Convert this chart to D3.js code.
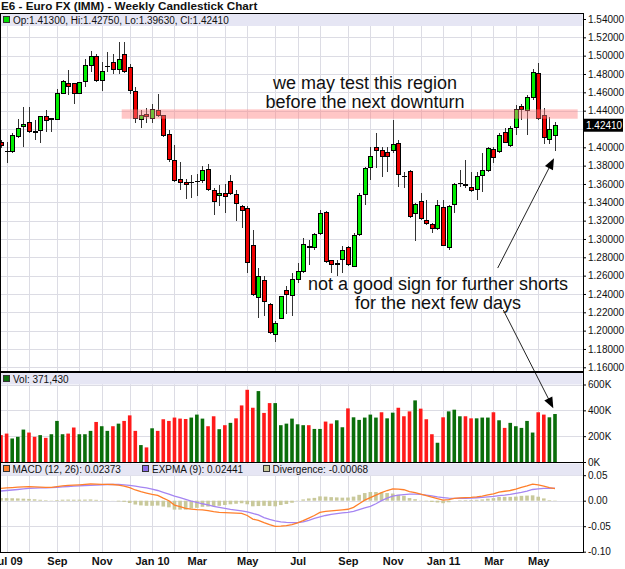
<!DOCTYPE html>
<html>
<head>
<meta charset="utf-8">
<script src="https://cdnjs.cloudflare.com/ajax/libs/d3/7.8.5/d3.min.js"></script>
<style>
body { margin: 0; background: #fff; }
svg text { font-family: "Liberation Sans", Arial, sans-serif; }
</style>
</head>
<body>
<div id="chart"></div>
<script>
// weekly bars, one per Monday, first bar 29 Jun 2009
var firstWeek = new Date(2009, 5, 29);

var opens = [1.4054, 1.3955, 1.3953, 1.4116, 1.4232, 1.4268, 1.4172, 1.4188, 1.4333, 1.4305,
    1.4308, 1.4587, 1.4696, 1.4696, 1.4587, 1.4714, 1.4888, 1.4996, 1.4725, 1.4880,
    1.4920, 1.4851, 1.5011, 1.4870, 1.4612, 1.4308, 1.4362, 1.4315, 1.4406, 1.4344,
    1.4141, 1.3855, 1.3652, 1.3620, 1.3612, 1.3625, 1.3639, 1.3762, 1.3531, 1.3476,
    1.3494, 1.3627, 1.3482, 1.3355, 1.3337, 1.2927, 1.2359, 1.2551, 1.2286, 1.1960,
    1.2134, 1.2438, 1.2384, 1.2558, 1.2648, 1.2910, 1.2902, 1.3065, 1.3290, 1.2764,
    1.2722, 1.2775, 1.2902, 1.2703, 1.3047, 1.3482, 1.3783, 1.3996, 1.3964, 1.3945,
    1.3960, 1.4043, 1.3685, 1.3736, 1.3283, 1.3409, 1.3203, 1.3160, 1.3116, 1.3348,
    1.2902, 1.3380, 1.3600, 1.3590, 1.3561, 1.3536, 1.3688, 1.3746, 1.3978, 1.3953,
    1.4159, 1.4022, 1.4217, 1.4445, 1.4398, 1.4543, 1.4804, 1.4344, 1.4080, 1.4130];

var highs = [1.4080, 1.4062, 1.4152, 1.4308, 1.4435, 1.4442, 1.4297, 1.4340, 1.4406, 1.4320,
    1.4641, 1.4732, 1.4841, 1.4703, 1.4710, 1.4967, 1.5051, 1.5022, 1.4931, 1.5040,
    1.5022, 1.5148, 1.5148, 1.4913, 1.4659, 1.4406, 1.4424, 1.4478, 1.4580, 1.4351,
    1.4188, 1.4025, 1.3844, 1.3652, 1.3699, 1.3712, 1.3791, 1.3820, 1.3556, 1.3592,
    1.3603, 1.3699, 1.3536, 1.3373, 1.3355, 1.3101, 1.2685, 1.2594, 1.2304, 1.2105,
    1.2380, 1.2485, 1.2630, 1.2739, 1.3011, 1.2993, 1.3065, 1.3319, 1.3301, 1.2775,
    1.2775, 1.2920, 1.2920, 1.3065, 1.3500, 1.3790, 1.4007, 1.4152, 1.4007, 1.4007,
    1.4297, 1.4080, 1.3736, 1.3754, 1.3391, 1.3500, 1.3427, 1.3174, 1.3427, 1.3427,
    1.3373, 1.3609, 1.3754, 1.3862, 1.3736, 1.3736, 1.3935, 1.4007, 1.4007, 1.4152,
    1.4206, 1.4232, 1.4460, 1.4478, 1.4568, 1.4859, 1.4924, 1.4424, 1.4333, 1.4275];

var lows = [1.3990, 1.3826, 1.3935, 1.4098, 1.4007, 1.4152, 1.4080, 1.4043, 1.4170, 1.4170,
    1.4300, 1.4580, 1.4569, 1.4478, 1.4580, 1.4659, 1.4822, 1.4714, 1.4616, 1.4822,
    1.4804, 1.4804, 1.4812, 1.4587, 1.4261, 1.4207, 1.4261, 1.4261, 1.4333, 1.4116,
    1.3844, 1.3627, 1.3536, 1.3438, 1.3446, 1.3465, 1.3610, 1.3520, 1.3266, 1.3357,
    1.3285, 1.3482, 1.3192, 1.3120, 1.2630, 1.2377, 1.2141, 1.2159, 1.1960, 1.1877,
    1.2123, 1.2177, 1.2159, 1.2522, 1.2630, 1.2721, 1.2884, 1.3047, 1.2739, 1.2630,
    1.2594, 1.2630, 1.2703, 1.2696, 1.3029, 1.3373, 1.3645, 1.3772, 1.3681, 1.3736,
    1.3935, 1.3572, 1.3554, 1.3228, 1.2974, 1.3210, 1.3156, 1.3065, 1.3101, 1.2920,
    1.2884, 1.3283, 1.3572, 1.3554, 1.3518, 1.3427, 1.3518, 1.3736, 1.3826, 1.3935,
    1.4043, 1.4007, 1.4134, 1.4300, 1.4134, 1.4514, 1.4297, 1.4036, 1.4036, 1.3963];

var closes = [1.4022, 1.3952, 1.4134, 1.4207, 1.4254, 1.4170, 1.4166, 1.4333, 1.4290, 1.4310,
    1.4587, 1.4714, 1.4659, 1.4587, 1.4703, 1.4888, 1.4996, 1.4725, 1.4830, 1.4886,
    1.4851, 1.4956, 1.4822, 1.4616, 1.4315, 1.4351, 1.4333, 1.4413, 1.4351, 1.4134,
    1.3862, 1.3638, 1.3616, 1.3598, 1.3618, 1.3630, 1.3748, 1.3538, 1.3404, 1.3491,
    1.3458, 1.3500, 1.3391, 1.3308, 1.2739, 1.2395, 1.2587, 1.2323, 1.1978, 1.2079,
    1.2377, 1.2395, 1.2558, 1.2641, 1.2938, 1.2915, 1.3047, 1.3275, 1.2757, 1.2721,
    1.2730, 1.2877, 1.2721, 1.3036, 1.3471, 1.3772, 1.3899, 1.3960, 1.3895, 1.3905,
    1.4036, 1.3699, 1.3681, 1.3246, 1.3373, 1.3228, 1.3174, 1.3116, 1.3366, 1.2927,
    1.3355, 1.3590, 1.3610, 1.3583, 1.3529, 1.3681, 1.3746, 1.3989, 1.3891, 1.4127,
    1.4058, 1.4206, 1.4413, 1.4418, 1.4543, 1.4815, 1.4315, 1.4109, 1.4196, 1.4241];

// weekly volume, thousands of contracts
var volumes = [208, 220, 182, 195, 251, 228, 195, 208, 187, 215,
    318, 215, 220, 267, 215, 215, 241, 310, 277, 241,
    277, 297, 318, 361, 241, 131, 113, 261, 241, 331,
    318, 344, 336, 333, 344, 367, 336, 277, 354, 254,
    285, 303, 338, 438, 559, 420, 549, 380, 456, 456,
    285, 297, 336, 292, 285, 285, 256, 256, 313, 297,
    323, 269, 415, 346, 326, 344, 367, 344, 385, 338,
    382, 420, 354, 392, 477, 413, 331, 215, 149, 346,
    392, 405, 354, 354, 338, 338, 344, 344, 385, 323,
    264, 303, 277, 264, 318, 228, 385, 367, 346, 371.43];

// MACD (12, 26) and its EXPMA (9)
var macd = [0.0242, 0.0250, 0.0258, 0.0265, 0.0272, 0.0275, 0.0273, 0.0268, 0.0263, 0.0260,
    0.0275, 0.0290, 0.0300, 0.0305, 0.0312, 0.0320, 0.0327, 0.0325, 0.0322, 0.0320,
    0.0318, 0.0305, 0.0288, 0.0255, 0.0210, 0.0176, 0.0150, 0.0125, 0.0105, 0.0050,
    0.0000, -0.0085, -0.0115, -0.0150, -0.0165, -0.0175, -0.0180, -0.0195, -0.0215, -0.0230,
    -0.0235, -0.0240, -0.0245, -0.0250, -0.0290, -0.0360, -0.0385, -0.0430, -0.0470, -0.0505,
    -0.0500, -0.0490, -0.0470, -0.0435, -0.0390, -0.0340, -0.0290, -0.0230, -0.0210, -0.0200,
    -0.0190, -0.0180, -0.0168, -0.0130, -0.0060, 0.0010, 0.0060, 0.0110, 0.0160, 0.0200,
    0.0230, 0.0225, 0.0215, 0.0180, 0.0160, 0.0130, 0.0100, 0.0070, 0.0040, 0.0013,
    0.0020, 0.0045, 0.0055, 0.0060, 0.0065, 0.0075, 0.0090, 0.0115, 0.0135, 0.0170,
    0.0185, 0.0200, 0.0225, 0.0260, 0.0290, 0.0325, 0.0310, 0.0285, 0.0255, 0.02373];

var signal = [0.0190, 0.0200, 0.0210, 0.0220, 0.0232, 0.0240, 0.0245, 0.0250, 0.0252, 0.0255,
    0.0262, 0.0270, 0.0278, 0.0285, 0.0292, 0.0298, 0.0302, 0.0308, 0.0313, 0.0318,
    0.0320, 0.0318, 0.0310, 0.0300, 0.0285, 0.0268, 0.0250, 0.0225, 0.0200, 0.0165,
    0.0130, 0.0090, 0.0060, 0.0025, -0.0010, -0.0035, -0.0060, -0.0080, -0.0110, -0.0130,
    -0.0150, -0.0170, -0.0185, -0.0200, -0.0220, -0.0250, -0.0280, -0.0330, -0.0365, -0.0395,
    -0.0415, -0.0425, -0.0430, -0.0430, -0.0415, -0.0385, -0.0345, -0.0315, -0.0290, -0.0270,
    -0.0255, -0.0240, -0.0230, -0.0210, -0.0175, -0.0140, -0.0110, -0.0060, 0.0000, 0.0050,
    0.0090, 0.0110, 0.0120, 0.0128, 0.0130, 0.0125, 0.0110, 0.0095, 0.0075, 0.0062,
    0.0050, 0.0046, 0.0046, 0.0048, 0.0052, 0.0058, 0.0065, 0.0075, 0.0085, 0.0098,
    0.0110, 0.0125, 0.0145, 0.0165, 0.0190, 0.0220, 0.0232, 0.0240, 0.0243, 0.02441];

var monthLabels = ["Jul 09", "Sep", "Nov", "Jan 10", "Mar", "May", "Jul", "Sep", "Nov", "Jan 11", "Mar", "May"];
var priceTicks = d3.range(116, 155, 2).map(function(d) { return d / 100; });
var volTicks = [0, 200000, 400000, 600000];
var macdTicks = [-0.10, -0.05, 0, 0.05];

// annotations (bar index / price units)
var band = {from: 21.57, to: 103.05, low: 1.4312, high: 1.4414};
var notes = [
    {idx: 65.05, price: 1.4631, lines: ["we may test this region", "before the next downturn"]},
    {idx: 78.1, price: 1.2443, lines: ["not a good sign for further shorts", "for the next few days"]}
];

var dates = d3.timeMonday.range(firstWeek, d3.timeWeek.offset(firstWeek, opens.length));
var bars = dates.map(function(d, i) {
    return {
        i: i, date: d, open: opens[i], high: highs[i], low: lows[i], close: closes[i],
        vol: volumes[i] * 1000, macd: macd[i], signal: signal[i], div: macd[i] - signal[i],
        volUp: i === 0 ? closes[i] >= opens[i] : closes[i] >= closes[i - 1]
    };
});
var last = bars[bars.length - 1];

var W = 625, H = 569, left = 0.5, right = 583;
var price = {top: 13, bottom: 372},
    vol = {top: 372, bottom: 462.5},
    osc = {top: 462.5, bottom: 552};

var svg = d3.select("#chart").append("svg")
    .attr("width", W).attr("height", H);

var x = d3.scaleLinear().domain([0, 99]).range([1, 555]);
var y = d3.scaleLinear().domain([1.16, 1.54]).range([367.3, 19]);
var yVol = d3.scaleLinear().domain([0, 600000]).range([462, 384.5]);
var yMacd = d3.scaleLinear().domain([-0.10, 0.05]).range([551.7, 475.2]);

// first bar of each month -> grid, every other month gets a label
var monthIdx = [], labelIdx = [];
bars.forEach(function(b, i) {
    if (i > 0 && b.date.getMonth() !== bars[i - 1].date.getMonth()) {
        monthIdx.push(i);
        if (b.date.getMonth() % 2 === 0) labelIdx.push(i);
    }
});

svg.append("defs").append("clipPath").attr("id", "clipPrice")
    .append("rect").attr("x", left).attr("y", price.top).attr("width", right - left).attr("height", price.bottom - price.top);

// grid
var grid = svg.append("g").attr("stroke", "#dcdce4").attr("stroke-width", 1).attr("shape-rendering", "crispEdges");
grid.selectAll(".vg").data(monthIdx).enter().append("line")
    .attr("x1", function(d) { return Math.round(x(d)) + 0.5; })
    .attr("x2", function(d) { return Math.round(x(d)) + 0.5; })
    .attr("y1", price.top).attr("y2", osc.bottom);
grid.selectAll(".pg").data(priceTicks).enter().append("line")
    .attr("x1", left).attr("x2", right)
    .attr("y1", function(d) { return Math.round(y(d)) + 0.5; })
    .attr("y2", function(d) { return Math.round(y(d)) + 0.5; });
grid.selectAll(".volg").data(volTicks).enter().append("line")
    .attr("x1", left).attr("x2", right)
    .attr("y1", function(d) { return Math.round(yVol(d)) + 0.5; })
    .attr("y2", function(d) { return Math.round(yVol(d)) + 0.5; });
grid.selectAll(".mg").data(macdTicks).enter().append("line")
    .attr("x1", left).attr("x2", right)
    .attr("y1", function(d) { return Math.round(yMacd(d)) + 0.5; })
    .attr("y2", function(d) { return Math.round(yMacd(d)) + 0.5; });

// candles
var candles = svg.append("g").attr("clip-path", "url(#clipPrice)").attr("shape-rendering", "crispEdges");
candles.selectAll(".wick").data(bars).enter().append("line")
    .attr("x1", function(d) { return Math.round(x(d.i)) + 0.5; })
    .attr("x2", function(d) { return Math.round(x(d.i)) + 0.5; })
    .attr("y1", function(d) { return y(d.high); })
    .attr("y2", function(d) { return y(d.low); })
    .attr("stroke", "#333");
candles.selectAll(".body").data(bars).enter().append("rect")
    .attr("x", function(d) { return Math.round(x(d.i)) - 1.5; })
    .attr("width", 4)
    .attr("y", function(d) { return y(Math.max(d.open, d.close)); })
    .attr("height", function(d) { return Math.max(0.5, Math.abs(y(d.open) - y(d.close))); })
    .attr("fill", function(d) { return d.close >= d.open ? "#00ee00" : "#ee0000"; })
    .attr("stroke", "#000").attr("stroke-width", 1);

// resistance band
svg.append("rect")
    .attr("x", x(band.from)).attr("width", x(band.to) - x(band.from))
    .attr("y", y(band.high)).attr("height", y(band.low) - y(band.high))
    .attr("fill", "#ff8080").attr("opacity", 0.45);

// volume
svg.append("g").selectAll("rect").data(bars).enter().append("rect")
    .attr("x", function(d) { return x(d.i) - 1.8; })
    .attr("width", 3.6)
    .attr("y", function(d) { return yVol(d.vol); })
    .attr("height", function(d) { return yVol(0) - yVol(d.vol); })
    .attr("fill", function(d) { return d.volUp ? "#0a6e0a" : "#ff1a1a"; });

// MACD histogram and lines
svg.append("g").selectAll("rect").data(bars).enter().append("rect")
    .attr("x", function(d) { return x(d.i) - 1.8; })
    .attr("width", 3.6)
    .attr("y", function(d) { return Math.min(yMacd(0), yMacd(d.div)); })
    .attr("height", function(d) { return Math.abs(yMacd(d.div) - yMacd(0)); })
    .attr("fill", "#c9c99b");
svg.append("path").datum(bars)
    .attr("fill", "none").attr("stroke", "#a585f2").attr("stroke-width", 1.3)
    .attr("d", d3.line().x(function(d) { return x(d.i); }).y(function(d) { return yMacd(d.signal); }));
svg.append("path").datum(bars)
    .attr("fill", "none").attr("stroke", "#ff7f2a").attr("stroke-width", 1.3)
    .attr("d", d3.line().x(function(d) { return x(d.i); }).y(function(d) { return yMacd(d.macd); }));

// legend strips
var strips = [
    {top: price.top + 0.5, h: 12.5},
    {top: vol.top + 1, h: 11.5},
    {top: osc.top + 1, h: 12}
];
svg.selectAll(".strip").data(strips).enter().append("rect")
    .attr("x", left + 0.5).attr("width", right - left - 1)
    .attr("y", function(d) { return d.top; }).attr("height", function(d) { return d.h; })
    .attr("fill", "#e6e6f4");

function legendItem(xp, yp, color, label) {
    svg.append("rect").attr("x", xp + 0.5).attr("y", yp - 7.5).attr("width", 6).attr("height", 6)
        .attr("fill", color).attr("stroke", "#333").attr("stroke-width", 1).attr("shape-rendering", "crispEdges");
    svg.append("text").attr("x", xp + 10).attr("y", yp).style("font-size", "10px").attr("fill", "#111").text(label);
}
var f5 = d3.format(".5f");
legendItem(3, 24, "#00dd00", "Op:" + f5(last.open) + ", Hi:" + f5(last.high) + ", Lo:" + f5(last.low) + ", Cl:" + f5(last.close));
legendItem(3, 382.5, "#0a6e0a", "Vol: " + d3.format(",")(Math.round(last.vol)));
legendItem(2.5, 473, "#ff7f2a", "MACD (12, 26): " + f5(last.macd));
legendItem(142, 473, "#8a6ae8", "EXPMA (9): " + f5(last.signal));
legendItem(262.5, 473, "#c9c99b", "Divergence: " + f5(last.div).replace("\u2212", "-"));

// annotation texts
notes.forEach(function(n) {
    svg.append("text")
        .attr("x", x(n.idx)).attr("y", y(n.price))
        .attr("text-anchor", "middle").style("font-size", "18px").attr("fill", "#111")
        .selectAll("tspan").data(n.lines).enter().append("tspan")
        .attr("x", x(n.idx)).attr("dy", function(d, i) { return i ? 18.5 : 0; })
        .text(function(d) { return d; });
});

// arrows
var arrows = [
    {x0: x(88.76), y0: y(1.2683), x1: x(98.82), y1: y(1.3880)},
    {x0: x(89.76), y0: y(1.2225), x1: x(98.7), y1: yVol(415700)}
];
arrows.forEach(function(a) {
    var dx = a.x1 - a.x0, dy = a.y1 - a.y0, len = Math.sqrt(dx * dx + dy * dy);
    var ux = dx / len, uy = dy / len, L = 11, hw = 4.5;
    svg.append("line").attr("x1", a.x0).attr("y1", a.y0)
        .attr("x2", a.x1 - ux * L * 0.8).attr("y2", a.y1 - uy * L * 0.8)
        .attr("stroke", "#222").attr("stroke-width", 1);
    var bx = a.x1 - ux * L, by = a.y1 - uy * L;
    svg.append("path")
        .attr("d", "M" + a.x1 + "," + a.y1 + "L" + (bx - uy * hw) + "," + (by + ux * hw) +
            "L" + (bx + uy * hw) + "," + (by - ux * hw) + "Z")
        .attr("fill", "#000");
});

// frames
var frame = svg.append("g").attr("fill", "none").attr("stroke", "#000").attr("shape-rendering", "crispEdges");
frame.append("rect").attr("x", left).attr("y", price.top).attr("width", right - left).attr("height", osc.bottom - price.top);
frame.append("line").attr("x1", left).attr("x2", right).attr("y1", price.bottom).attr("y2", price.bottom).attr("stroke-width", 2);
frame.append("line").attr("x1", left).attr("x2", right).attr("y1", vol.bottom).attr("y2", vol.bottom).attr("stroke-width", 1.5);

// right axes
function styleAxis(g) {
    g.select(".domain").remove();
    g.selectAll("text").attr("fill", "#111").style("font-size", "10px")
        .style("font-family", "'Liberation Sans', Arial, sans-serif");
    g.selectAll("line").attr("stroke", "#000");
}
svg.append("g").attr("transform", "translate(" + right + ",0)")
    .call(d3.axisRight(y).tickValues(priceTicks.filter(function(t) {
        return Math.abs(y(t) - y(last.close)) > 8;
    })).tickFormat(f5).tickSize(3).tickPadding(2))
    .call(styleAxis);
svg.append("g").attr("transform", "translate(" + right + ",0)")
    .call(d3.axisRight(yVol).tickValues(volTicks).tickFormat(function(d) { return d / 1000 + "K"; }).tickSize(3).tickPadding(2))
    .call(styleAxis);
svg.append("g").attr("transform", "translate(" + right + ",0)")
    .call(d3.axisRight(yMacd).tickValues(macdTicks).tickFormat(function(d) { return d.toFixed(2); }).tickSize(3).tickPadding(2))
    .call(styleAxis);

// last price box
svg.append("rect").attr("x", right + 1).attr("y", y(last.close) - 6.5).attr("width", 39).attr("height", 13).attr("fill", "#000");
svg.append("text").attr("x", right + 3).attr("y", y(last.close) + 3.5)
    .attr("fill", "#fff").style("font-size", "10px").text(f5(last.close));

// bottom month labels
svg.append("g").attr("transform", "translate(0," + osc.bottom + ")")
    .call(d3.axisBottom(x).tickValues(labelIdx).tickFormat(function(d, i) { return monthLabels[i]; }).tickSize(0).tickPadding(5))
    .call(function(g) {
        g.select(".domain").remove();
        g.selectAll("text").attr("fill", "#111").style("font-size", "11px").style("font-weight", "bold")
            .style("font-family", "'Liberation Sans', Arial, sans-serif");
    });

// title
svg.append("text").attr("x", 1).attr("y", 10)
    .style("font-size", "11.7px").style("font-weight", "bold").attr("fill", "#111")
    .text("E6 - Euro FX (IMM) - Weekly Candlestick Chart");
</script>
</body>
</html>
